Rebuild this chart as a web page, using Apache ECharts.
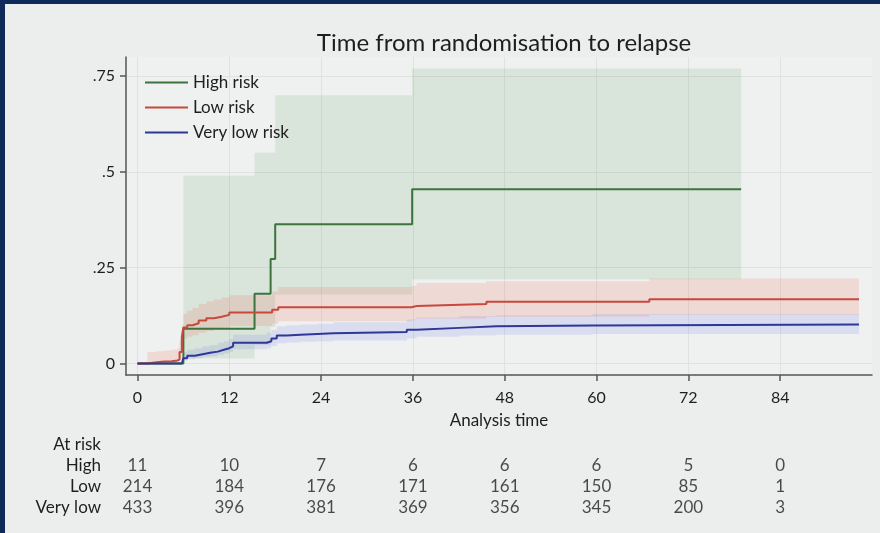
<!DOCTYPE html>
<html>
<head>
<meta charset="utf-8">
<script src="https://cdn.jsdelivr.net/npm/echarts@6/dist/echarts.min.js"></script>
<style>
  html, body { margin: 0; padding: 0; background: #0f2a5a; }
  #frame {
    position: absolute; left: 5px; top: 4px; width: 875px; height: 529px;
    background: #eceeed;
  }
  #chart { position: absolute; left: -5px; top: -4px; width: 880px; height: 533px; }
</style>
</head>
<body>
<div id="frame"><div id="chart"></div></div>
<script>
// x ticks (months) and y ticks
const xTicks = [0, 12, 24, 36, 48, 60, 72, 84];
const yTicks = [0, 0.25, 0.5, 0.75];

// High risk: failure curve and 95% CI
const highT = [0, 6.0, 15.3, 17.4, 18.0, 35.9, 78.9];
const highY = [0, 0.0909, 0.1818, 0.2727, 0.3636, 0.4545, 0.4545];
const highBandT = [6.0, 15.3, 17.4, 18.0, 35.9, 78.9];
const highLo = [0.013, 0.048, 0.095, 0.18, 0.22, 0.22];
const highHi = [0.49, 0.55, 0.55, 0.70, 0.77, 0.77];

// Low risk
const lowT = [0, 1.3, 2.5, 3.5, 4.5, 5.2, 5.5, 5.8, 6.0, 6.5, 7.2, 8.0, 9.0, 10.0, 11.0, 12.0, 17.6, 18.4, 35.8, 36.5, 45.6, 66.9, 94.3];
const lowY = [0, 0.003, 0.005, 0.006, 0.008, 0.01, 0.03, 0.07, 0.094, 0.1, 0.105, 0.112, 0.118, 0.122, 0.127, 0.133, 0.14, 0.147, 0.15, 0.155, 0.161, 0.168, 0.168];
const lowLo = [0, 0, 0, 0, 0.001, 0.002, 0.015, 0.045, 0.065, 0.07, 0.074, 0.08, 0.085, 0.089, 0.093, 0.098, 0.104, 0.11, 0.113, 0.117, 0.122, 0.127, 0.127];
const lowHi = [0, 0.03, 0.032, 0.034, 0.036, 0.04, 0.06, 0.1, 0.13, 0.138, 0.145, 0.155, 0.162, 0.167, 0.172, 0.178, 0.188, 0.2, 0.203, 0.21, 0.215, 0.222, 0.222];

// Very low risk
const vlowT = [0, 5.8, 6.0, 6.5, 7.5, 8.5, 9.5, 10.5, 11.3, 12.0, 12.5, 16.9, 17.5, 18.2, 19.5, 21.3, 23.5, 25.6, 35.2, 36.5, 42.1, 46.9, 59.5, 94.3];
const vlowY = [0, 0.005, 0.014, 0.02, 0.024, 0.028, 0.031, 0.036, 0.04, 0.045, 0.054, 0.058, 0.065, 0.073, 0.075, 0.077, 0.079, 0.082, 0.088, 0.093, 0.097, 0.099, 0.102, 0.102];
const vlowLo = [0, 0.001, 0.007, 0.011, 0.014, 0.017, 0.019, 0.023, 0.026, 0.03, 0.037, 0.04, 0.046, 0.053, 0.055, 0.057, 0.058, 0.06, 0.065, 0.07, 0.073, 0.075, 0.077, 0.077];
const vlowHi = [0, 0.015, 0.03, 0.036, 0.04, 0.045, 0.048, 0.054, 0.058, 0.064, 0.075, 0.08, 0.088, 0.097, 0.1, 0.102, 0.104, 0.108, 0.115, 0.12, 0.124, 0.126, 0.129, 0.129];

// numbers at risk
const riskRows = ["At risk", "High", "Low", "Very low"];
const riskHigh = [11, 10, 7, 6, 6, 6, 5, 0];
const riskLow = [214, 184, 176, 171, 161, 150, 85, 1];
const riskVlow = [433, 396, 381, 369, 356, 345, 200, 3];

const FONT = "Lato";
const INK = "#1e1e1e";
const green = "#3d733d", red = "#c8483c", blue = "#2d3898";

const pairs = (t, v) => t.map((x, i) => [x, v[i]]);

// step-shaped CI band drawn as one polygon through the axis scales
function band(t, lo, hi, fill) {
  return {
    type: "custom", silent: true, z: 1,
    data: [[t[0], lo[0]]],
    renderItem: (params, api) => {
      const top = [], bot = [];
      for (let i = 0; i < t.length; i++) {
        const next = i < t.length - 1 ? t[i + 1] : t[i];
        top.push(api.coord([t[i], hi[i]]), api.coord([next, hi[i]]));
        bot.push(api.coord([t[i], lo[i]]), api.coord([next, lo[i]]));
      }
      return {
        type: "polygon",
        shape: { points: top.concat(bot.reverse()) },
        style: { fill: fill }
      };
    }
  };
}

function curve(name, t, y, color) {
  return {
    name: name, type: "line", step: "end", data: pairs(t, y), symbol: "none",
    color: color, lineStyle: { color: color, width: 2 }, z: 3
  };
}

function riskSeries(row, vals) {
  return {
    type: "scatter", xAxisIndex: 1, yAxisIndex: 1, symbolSize: 0,
    data: xTicks.map((x, i) => [x, row, vals[i]]),
    label: {
      show: true, position: "inside", formatter: (p) => String(p.value[2]),
      color: INK, fontFamily: FONT, fontSize: 17
    }
  };
}

const chart = echarts.init(document.getElementById("chart"));
chart.setOption({
  backgroundColor: "transparent",
  animation: false,
  title: {
    text: "Time from randomisation to relapse", left: 499, textAlign: "center", top: 26,
    textStyle: { fontFamily: FONT, fontWeight: "normal", fontSize: 24, color: INK }
  },
  legend: {
    data: ["High risk", "Low risk", "Very low risk"],
    orient: "vertical", left: 140, top: 69, itemWidth: 43, itemHeight: 2, itemGap: 8,
    icon: "rect",
    textStyle: { fontFamily: FONT, fontSize: 17, color: INK }
  },
  grid: [
    { left: 126, right: 8, top: 57, bottom: 158, backgroundColor: "#eff1f0", show: true, borderWidth: 0 },
    { left: 126, right: 8, top: 434, height: 84 }
  ],
  xAxis: [
    {
      type: "value", min: -1.5, max: 96,
      name: "Analysis time", nameLocation: "middle", nameGap: 37,
      nameTextStyle: { fontFamily: FONT, fontSize: 17, color: INK },
      axisLine: { onZero: false, lineStyle: { color: "#555", width: 1.5 } },
      axisTick: { length: 6, customValues: xTicks, lineStyle: { color: "#555", width: 1.5 } },
      axisLabel: { customValues: xTicks, margin: 15, fontFamily: FONT, fontSize: 16, color: INK },
      splitLine: { show: true, lineStyle: { color: "#dfe2e0", width: 1 } }
    },
    {
      type: "value", gridIndex: 1, min: -1.5, max: 96, show: false
    }
  ],
  yAxis: [
    {
      type: "value", min: -0.03, max: 0.8,
      axisLine: { show: true, onZero: false, lineStyle: { color: "#555", width: 1.5 } },
      axisTick: { show: true, length: 6, customValues: yTicks, lineStyle: { color: "#555", width: 1.5 } },
      axisLabel: {
        customValues: yTicks, margin: 11, fontFamily: FONT, fontSize: 16, color: INK,
        formatter: (v) => (v === 0 ? "0" : String(v).replace(/^0/, ""))
      },
      splitLine: { show: true, lineStyle: { color: "#dfe2e0", width: 1 } }
    },
    {
      type: "category", gridIndex: 1, data: riskRows, inverse: true,
      axisLine: { show: false }, axisTick: { show: false }, splitLine: { show: false },
      axisLabel: { interval: 0, margin: 25, fontFamily: FONT, fontSize: 17, color: INK }
    }
  ],
  series: [
    band(highBandT, highLo, highHi, "rgba(70,150,70,0.13)"),
    band(lowT, lowLo, lowHi, "rgba(235,100,80,0.17)"),
    band(vlowT, vlowLo, vlowHi, "rgba(80,90,230,0.13)"),
    curve("High risk", highT, highY, green),
    curve("Low risk", lowT, lowY, red),
    curve("Very low risk", vlowT, vlowY, blue),
    riskSeries("High", riskHigh),
    riskSeries("Low", riskLow),
    riskSeries("Very low", riskVlow)
  ]
});
</script>
</body>
</html>
